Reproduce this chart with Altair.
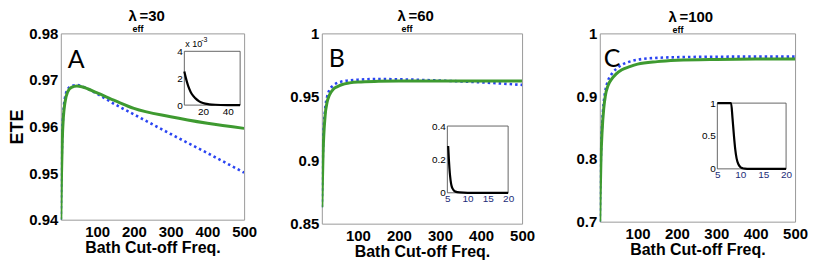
import altair as alt
import pandas as pd

# ---------------- data ----------------
A_x = [1, 3, 5, 8, 12, 20, 30, 45, 60, 100, 150, 200, 300, 400, 500]
A_green = [0.940, 0.950, 0.957, 0.962, 0.965, 0.9675, 0.9684, 0.9687, 0.9685, 0.9672, 0.9655, 0.9639, 0.9621, 0.9607, 0.9596]
A_blue = [0.940, 0.951, 0.958, 0.963, 0.966, 0.9680, 0.9687, 0.9689, 0.9686, 0.9670, 0.9647, 0.9626, 0.9584, 0.9543, 0.9501]

B_x = [12, 15, 20, 25, 30, 40, 50, 60, 80, 100, 150, 200, 300, 400, 500]
B_green = [0.863, 0.905, 0.935, 0.946, 0.951, 0.956, 0.958, 0.9595, 0.961, 0.9617, 0.9622, 0.9624, 0.9625, 0.9625, 0.9625]
B_blue = [0.863, 0.910, 0.940, 0.950, 0.955, 0.959, 0.961, 0.962, 0.963, 0.9635, 0.9640, 0.9638, 0.9628, 0.9614, 0.9594]

C_x = [4, 5, 7, 10, 14, 18, 25, 35, 45, 60, 80, 100, 150, 200, 300, 400, 500]
C_green = [0.700, 0.740, 0.800, 0.845, 0.880, 0.900, 0.917, 0.928, 0.935, 0.942, 0.947, 0.951, 0.955, 0.957, 0.9585, 0.959, 0.959]
C_blue = [0.700, 0.745, 0.808, 0.855, 0.890, 0.908, 0.925, 0.936, 0.943, 0.950, 0.955, 0.958, 0.961, 0.962, 0.9628, 0.963, 0.963]

IA_x = [5, 6, 8, 10, 12, 14, 17, 20, 25, 30, 40, 50]
IA_y = [2.5, 2.1, 1.45, 1.0, 0.7, 0.5, 0.28, 0.15, 0.06, 0.025, 0.005, 0.0]
IB_x = [5.2, 5.4, 5.6, 5.8, 6.0, 6.3, 6.6, 7, 8, 10, 15, 20]
IB_y = [0.28, 0.19, 0.12, 0.075, 0.045, 0.025, 0.014, 0.007, 0.002, 0, 0, 0]
IC_x = [5, 7, 8.0, 8.3, 8.6, 8.9, 9.2, 9.6, 10, 10.5, 11, 12, 15, 20]
IC_y = [1, 1, 1, 0.78, 0.52, 0.3, 0.16, 0.07, 0.03, 0.01, 0.003, 0, 0, 0]

X_TICKS = [100, 200, 300, 400, 500]
A_YTICKS = [0.94, 0.95, 0.96, 0.97, 0.98]
B_YTICKS = [0.85, 0.9, 0.95, 1]
C_YTICKS = [0.7, 0.8, 0.9, 1]
IA_XTICKS, IA_YTICKS = [20, 40], [0, 2, 4]
IB_XTICKS, IB_YTICKS = [5, 10, 15, 20], [0, 0.2, 0.4]
IC_XTICKS, IC_YTICKS = [5, 10, 15, 20], [0, 0.5, 1]
TITLES = ["30", "60", "100"]
LETTERS = ["A", "B", "C"]

GREEN = "#3e9a30"
BLUE = "#2a44f2"
FONT = "Liberation Sans"


def text(t, x, y, size, weight="normal", font=FONT, color="black", align="left", baseline="alphabetic"):
    return alt.Chart(pd.DataFrame({"t": [t]})).mark_text(
        font=font, fontSize=size, fontWeight=weight, color=color, align=align, baseline=baseline
    ).encode(x=alt.value(x), y=alt.value(y), text="t:N")


def panel(x, green, blue, xdom, ydom, yticks, w, h,
          ix, iy, ixdom, iydom, ixticks, iyticks, box,
          title_num, title_xy, letter, letter_xy, ytitle=None, ixcolor="black", extra=None):
    xenc = alt.X("x:Q", scale=alt.Scale(domain=xdom, nice=False, zero=False),
                 axis=alt.Axis(values=X_TICKS, title="Bath Cut-off Freq.", grid=False, domain=False,
                               ticks=False, labelFont=FONT, labelFontSize=15, labelFontWeight="bold",
                               labelColor="black", labelPadding=5, labelOverlap=False, labelFlush=False,
                               titleFont=FONT, titleFontSize=16,
                               titleFontWeight="bold", titleColor="black", titlePadding=0))
    yaxis = dict(values=yticks, format="~g", grid=False, domain=False, ticks=False, labelFont=FONT,
                 labelFontSize=15, labelFontWeight="bold", labelColor="black", labelPadding=3,
                 labelOverlap=False, labelFlush=False)
    if ytitle:
        yaxis.update(title=ytitle, titleFont=FONT, titleFontSize=18, titleFontWeight="bold",
                     titleColor="black", titlePadding=2)
    else:
        yaxis.update(title=None)
    yenc = alt.Y("y:Q", scale=alt.Scale(domain=ydom, nice=False, zero=False), axis=alt.Axis(**yaxis))

    dblue = pd.DataFrame({"x": x, "y": blue})
    dgreen = pd.DataFrame({"x": x, "y": green})
    main = alt.layer(
        alt.Chart(dblue).mark_line(color=BLUE, strokeWidth=2.6, strokeDash=[2.5, 3], interpolate="monotone", clip=True).encode(x=xenc, y=yenc),
        alt.Chart(dgreen).mark_line(color=GREEN, strokeWidth=3, interpolate="monotone", clip=True).encode(x=xenc, y=yenc),
    )

    L, R, T, B = box
    ixenc_kw = dict(scale=alt.Scale(domain=ixdom, range=[L, R], nice=False, zero=False),
                    axis=alt.Axis(orient="bottom", offset=B - h, values=ixticks, grid=False, domain=False,
                                  ticks=False, title=None, labelFont=FONT, labelFontSize=10,
                                  labelColor=ixcolor, labelPadding=1, labelFlush=False, labelOverlap=False))
    iyenc_kw = dict(scale=alt.Scale(domain=iydom, range=[B, T], nice=False, zero=False),
                    axis=alt.Axis(orient="left", offset=-L, values=iyticks, format="~g", grid=False,
                                  domain=False, ticks=False, title=None, labelFont=FONT, labelFontSize=10,
                                  labelColor="black", labelPadding=2, labelFlush=False, labelOverlap=False))
    dbox = pd.DataFrame({"x": [ixdom[0]], "x2": [ixdom[1]], "y": [iydom[0]], "y2": [iydom[1]]})
    dins = pd.DataFrame({"x": ix, "y": iy})
    inset = alt.layer(
        alt.Chart(dbox).mark_rect(fill="white", stroke="#555", strokeWidth=0.9).encode(
            x=alt.X("x:Q", **ixenc_kw), x2="x2:Q", y=alt.Y("y:Q", **iyenc_kw), y2="y2:Q"),
        alt.Chart(dins).mark_line(color="black", strokeWidth=2.2, interpolate="monotone", clip=False).encode(
            x=alt.X("x:Q", **ixenc_kw), y=alt.Y("y:Q", **iyenc_kw)),
    )

    tx, ty = title_xy
    layers = [main, inset,
              text("λ", tx, ty, 15, "bold"),
              text("=" + title_num, tx + 11, ty, 15, "bold"),
              text("eff", tx + 4, ty + 11, 9, "bold"),
              text(letter, letter_xy[0], letter_xy[1], 25, "normal", font="Lato")]
    if extra:
        layers += extra
    return alt.layer(*layers).resolve_scale(x="independent", y="independent").properties(width=w, height=h)


pA = panel(A_x, A_green, A_blue, [1, 500], [0.94, 0.98], A_YTICKS, 184, 187,
           IA_x, IA_y, [5, 50], [0, 4], IA_XTICKS, IA_YTICKS, (124, 180, 18, 72),
           TITLES[0], (68, -12), LETTERS[0], (7, 35), ytitle="ETE",
           extra=[text("x 10", 125, 14, 9), text("-3", 141, 9, 7)])
pB = panel(B_x, B_green, B_blue, [12, 500], [0.85, 1], B_YTICKS, 201, 191,
           IB_x, IB_y, [5, 20], [0, 0.4], IB_XTICKS, IB_YTICKS, (126, 187, 93, 160),
           TITLES[1], (76, -12), LETTERS[1], (7, 34), ixcolor="#1c2c78")
pC = panel(C_x, C_green, C_blue, [4, 500], [0.7, 1], C_YTICKS, 196, 189,
           IC_x, IC_y, [5, 20], [0, 1], IC_XTICKS, IC_YTICKS, (118, 187, 70, 136),
           TITLES[2], (69, -11), LETTERS[2], (4, 34), ixcolor="#1c2c78")

chart = alt.hconcat(pA, pB, pC, spacing=78, bounds="flush").properties(
    padding={"left": 0, "top": 0, "right": 0, "bottom": 0}
).configure_view(stroke="#9a9a9a", strokeWidth=1)

chart.save("out.html", embed_options={"renderer": "svg", "actions": False})
